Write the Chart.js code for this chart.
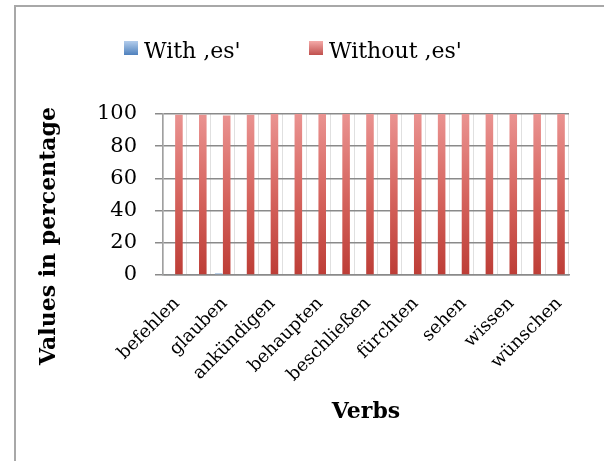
<!DOCTYPE html>
<html>
<head>
<meta charset="utf-8">
<style>
  html, body { margin: 0; padding: 0; background: #ffffff; }
  #wrap { width: 604px; height: 461px; position: relative; }
</style>
<script src="https://cdn.jsdelivr.net/npm/chart.js@4/dist/chart.umd.min.js"></script>
</head>
<body>
<div id="wrap"><canvas id="chart" width="604" height="461"></canvas></div>
<script>
// Verbs on the category axis (every second name is printed under the axis)
const categories = [
  'befehlen', 'erlauben', 'glauben', 'denken', 'ankündigen', 'bedauern',
  'behaupten', 'bezweifeln', 'beschließen', 'erwarten', 'fürchten', 'hoffen',
  'sehen', 'vermuten', 'wissen', 'wollen', 'wünschen'
];
// Share of sentences with the correlate "es" (percent)
const withEs = [0.5, 0.5, 1, 0.5, 0, 0, 0, 0, 0, 0, 0, 0, 0, 0, 0, 0, 0];
// Share of sentences without the correlate "es" (percent)
const withoutEs = [99.5, 99.5, 99, 99.5, 100, 100, 100, 100, 100, 100, 100, 100, 100, 100, 100, 100, 100];
// Value axis ticks
const yTickValues = [0, 20, 40, 60, 80, 100];

const seriesNames = ["With ,es'", "Without ,es'"];
const FONT = '"DejaVu Serif", "Liberation Serif", serif';

function verticalFill(stops) {
  return (ctx) => {
    const area = ctx.chart.chartArea;
    if (!area) return stops[stops.length - 1][1];
    const g = ctx.chart.ctx.createLinearGradient(0, area.top, 0, area.bottom);
    stops.forEach(([pos, col]) => g.addColorStop(pos, col));
    return g;
  };
}

// Outer frame, legend and axis titles
const decorations = {
  id: 'decorations',
  afterDraw(chart) {
    const c = chart.ctx;
    const area = chart.chartArea;
    c.save();
    // frame
    c.strokeStyle = '#a8a8a8';
    c.lineWidth = 2;
    c.beginPath();
    c.moveTo(15, 461);
    c.lineTo(15, 6);
    c.lineTo(604, 6);
    c.stroke();

    // legend
    const legendX = [124, 309];
    const boxTop = 41, box = 14;
    const fills = [['#b3cdec', '#4f81bd'], ['#f4aaa8', '#c0504d']];
    c.font = '22px ' + FONT;
    c.textBaseline = 'alphabetic';
    c.textAlign = 'left';
    chart.data.datasets.forEach((ds, i) => {
      const x = legendX[i];
      const g = c.createLinearGradient(0, boxTop, 0, boxTop + box);
      g.addColorStop(0, fills[i][0]);
      g.addColorStop(1, fills[i][1]);
      c.fillStyle = g;
      c.fillRect(x, boxTop, box, box);
      c.fillStyle = '#000';
      c.fillText(ds.label, x + box + 6, 58);
    });

    // axis titles
    c.font = 'bold 22px ' + FONT;
    c.fillStyle = '#000';
    c.textAlign = 'center';
    c.textBaseline = 'middle';
    c.fillText('Verbs', (area.left + area.right) / 2, 412);
    c.translate(49, 236);
    c.rotate(-Math.PI / 2);
    c.fillText('Values in percentage', 0, 0);
    c.restore();
  }
};

new Chart(document.getElementById('chart'), {
  type: 'bar',
  data: {
    labels: categories,
    datasets: [
      {
        label: seriesNames[0],
        data: withEs,
        backgroundColor: verticalFill([[0, '#c5daf2'], [1, '#8fb2db']]),
        borderWidth: 0
      },
      {
        label: seriesNames[1],
        data: withoutEs,
        backgroundColor: verticalFill([[0, '#ea9391'], [0.5, '#d6655f'], [1, '#bd3d36']]),
        borderWidth: 0
      }
    ]
  },
  options: {
    responsive: false,
    animation: false,
    layout: { padding: { top: 114, right: 35, left: 0, bottom: 0 } },
    datasets: { bar: { categoryPercentage: 0.667, barPercentage: 0.95 } },
    plugins: {
      legend: { display: false },
      tooltip: { enabled: false },
      title: { display: false }
    },
    scales: {
      x: {
        grid: { display: true, offset: true, color: '#e0e0e0', lineWidth: 1, drawTicks: false },
        border: { display: true, color: '#8a8a8a', width: 1.5 },
        ticks: {
          autoSkip: false,
          minRotation: 45,
          maxRotation: 45,
          padding: 18,
          labelOffset: 2,
          color: '#000',
          font: { family: FONT, size: 18 },
          callback: function (value, index) {
            return index % 2 === 0 ? this.getLabelForValue(value) : '';
          }
        },
        afterFit(scale) { scale.height = 186; }
      },
      y: {
        min: 0,
        max: 100,
        afterBuildTicks(scale) { scale.ticks = yTickValues.map(v => ({ value: v })); },
        grid: { color: '#8a8a8a', lineWidth: 1.5, tickLength: 8, drawTicks: true },
        border: { display: true, color: '#a0a0a0', width: 1.5 },
        ticks: {
          padding: 18,
          color: '#000',
          font: { family: FONT, size: 21 }
        },
        afterFit(scale) { scale.width = 163; }
      }
    }
  },
  plugins: [decorations]
});
</script>
</body>
</html>
